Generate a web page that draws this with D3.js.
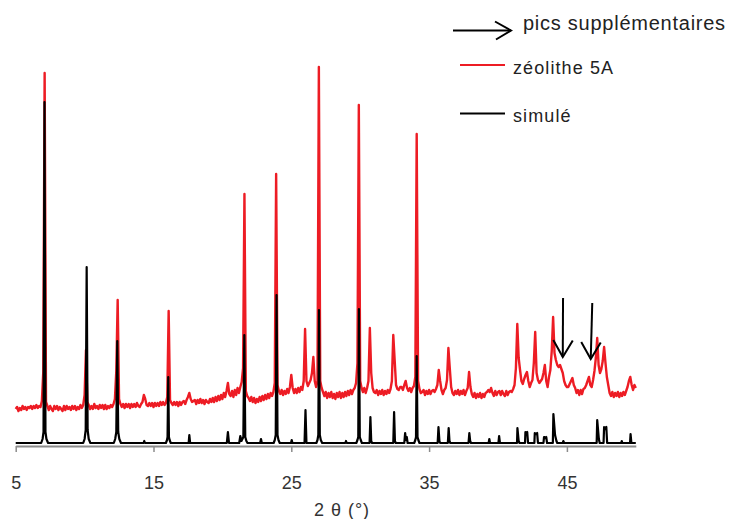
<!DOCTYPE html>
<html lang="fr">
    <head>
        <meta charset="utf-8">
        <script src="https://d3js.org/d3.v7.min.js"></script>
        <title>DRX zéolithe 5A</title>
        <style>
            body {
                margin: 0px;
                background-color: white;
            }
            text {
                font-family: "Liberation Sans", Arial, sans-serif;
            }
        </style>
    </head>
    <body>
        <svg id="main" width="731" height="519"></svg>
        <script>

        // axis ticks (2 theta, degrees)
        const xTicks = [5, 15, 25, 35, 45];

        const seriesNames = ['zéolithe 5A', 'simulé'];
        const arrowLabel = 'pics supplémentaires';

        // measured pattern, [2theta, intensity]
        const zeoliteData = [
            [5.0,34],[5.1,36],[5.2,32],[5.3,35],[5.4,33],[5.5,37],[5.6,34],[5.7,36],[5.8,33],[5.9,36],
            [6.0,35],[6.1,37],[6.2,34],[6.3,37],[6.4,35],[6.5,38],[6.6,35],[6.7,37],[6.8,36],[6.9,42],
            [7.0,71],[7.1,370],[7.2,41],[7.3,37],[7.4,33],[7.5,37],[7.6,34],[7.7,32],[7.8,37],[7.9,34],
            [8.0,37],[8.1,33],[8.2,36],[8.3,34],[8.4,32],[8.5,37],[8.6,33],[8.7,37],[8.8,34],[8.9,36],
            [9.0,33],[9.1,37],[9.2,34],[9.3,37],[9.4,33],[9.5,36],[9.6,34],[9.7,38],[9.8,35],[9.9,38],
            [10.0,48],[10.1,93],[10.2,41],[10.3,38],[10.4,34],[10.5,37],[10.6,34],[10.7,39],[10.8,35],[10.9,37],
            [11.0,34],[11.1,38],[11.2,35],[11.3,38],[11.4,34],[11.5,38],[11.6,34],[11.7,37],[11.8,35],[11.9,38],
            [12.0,36],[12.1,39],[12.2,44],[12.3,72],[12.4,143],[12.5,44],[12.6,39],[12.7,36],[12.8,39],[12.9,35],
            [13.0,39],[13.1,36],[13.2,39],[13.3,35],[13.4,39],[13.5,36],[13.6,39],[13.7,36],[13.8,40],[13.9,37],
            [14.0,36],[14.1,39],[14.2,41],[14.3,48],[14.4,44],[14.5,38],[14.6,37],[14.7,40],[14.8,37],[14.9,40],
            [15.0,36],[15.1,40],[15.2,37],[15.3,40],[15.4,37],[15.5,41],[15.6,38],[15.7,41],[15.8,38],[15.9,40],
            [16.0,46],[16.1,132],[16.2,43],[16.3,40],[16.4,38],[16.5,41],[16.6,38],[16.7,41],[16.8,37],[16.9,41],
            [17.0,38],[17.1,41],[17.2,42],[17.3,39],[17.4,43],[17.5,46],[17.6,50],[17.7,44],[17.8,41],[17.9,42],
            [18.0,43],[18.1,39],[18.2,43],[18.3,40],[18.4,44],[18.5,40],[18.6,43],[18.7,39],[18.8,43],[18.9,41],
            [19.0,40],[19.1,44],[19.2,41],[19.3,45],[19.4,41],[19.5,46],[19.6,42],[19.7,47],[19.8,43],[19.9,48],
            [20.0,44],[20.1,50],[20.2,46],[20.3,52],[20.4,60],[20.5,49],[20.6,47],[20.7,52],[20.8,46],[20.9,53],
            [21.0,48],[21.1,55],[21.2,50],[21.3,56],[21.4,61],[21.5,75],[21.6,249],[21.7,52],[21.8,47],[21.9,45],
            [22.0,42],[22.1,46],[22.2,41],[22.3,45],[22.4,40],[22.5,44],[22.6,41],[22.7,46],[22.8,42],[22.9,47],
            [23.0,43],[23.1,48],[23.2,44],[23.3,49],[23.4,45],[23.5,50],[23.6,47],[23.7,51],[23.8,60],[23.9,269],
            [24.0,58],[24.1,52],[24.2,49],[24.3,53],[24.4,48],[24.5,52],[24.6,49],[24.7,54],[24.8,50],[24.9,56],
            [25.0,68],[25.1,55],[25.2,50],[25.3,54],[25.4,50],[25.5,55],[25.6,51],[25.7,56],[25.8,53],[25.9,62],
            [26.0,114],[26.1,62],[26.2,57],[26.3,60],[26.4,63],[26.5,70],[26.6,86],[26.7,62],[26.8,56],[26.9,62],
            [27.0,376],[27.1,62],[27.2,55],[27.3,51],[27.4,47],[27.5,51],[27.6,45],[27.7,50],[27.8,46],[27.9,51],
            [28.0,45],[28.1,49],[28.2,44],[28.3,50],[28.4,46],[28.5,51],[28.6,45],[28.7,50],[28.8,46],[28.9,51],
            [29.0,47],[29.1,52],[29.2,48],[29.3,53],[29.4,49],[29.5,53],[29.6,55],[29.7,60],[29.8,80],[29.9,338],
            [30.0,62],[30.1,55],[30.2,51],[30.3,55],[30.4,50],[30.5,55],[30.6,62],[30.7,115],[30.8,70],[30.9,55],
            [31.0,51],[31.1,50],[31.2,53],[31.3,48],[31.4,52],[31.5,49],[31.6,53],[31.7,48],[31.8,52],[31.9,49],
            [32.0,53],[32.1,50],[32.2,54],[32.3,62],[32.4,108],[32.5,83],[32.6,58],[32.7,54],[32.8,53],[32.9,56],
            [33.0,56],[33.1,53],[33.2,58],[33.3,62],[33.4,55],[33.5,52],[33.6,55],[33.7,51],[33.8,55],[33.9,57],
            [34.0,66],[34.1,309],[34.2,62],[34.3,54],[34.4,50],[34.5,51],[34.6,53],[34.7,48],[34.8,52],[34.9,49],
            [35.0,53],[35.1,49],[35.2,52],[35.3,53],[35.4,51],[35.5,54],[35.6,58],[35.7,73],[35.8,62],[35.9,53],
            [36.0,49],[36.1,53],[36.2,55],[36.3,63],[36.4,95],[36.5,75],[36.6,56],[36.7,50],[36.8,48],[36.9,52],
            [37.0,49],[37.1,53],[37.2,48],[37.3,52],[37.4,49],[37.5,53],[37.6,48],[37.7,52],[37.8,55],[37.9,71],
            [38.0,56],[38.1,49],[38.2,46],[38.3,50],[38.4,45],[38.5,49],[38.6,46],[38.7,50],[38.8,45],[38.9,49],
            [39.0,46],[39.1,50],[39.2,51],[39.3,53],[39.4,51],[39.5,55],[39.6,50],[39.7,47],[39.8,52],[39.9,48],
            [40.0,51],[40.1,52],[40.2,48],[40.3,52],[40.4,49],[40.5,47],[40.6,52],[40.7,48],[40.8,51],[40.9,52],
            [41.0,51],[41.1,54],[41.2,58],[41.3,75],[41.4,119],[41.5,85],[41.6,73],[41.7,62],[41.8,59],[41.9,64],
            [42.0,68],[42.1,71],[42.2,62],[42.3,56],[42.4,60],[42.5,63],[42.6,80],[42.7,111],[42.8,70],[42.9,63],
            [43.0,60],[43.1,62],[43.2,64],[43.3,70],[43.4,78],[43.5,62],[43.6,56],[43.7,66],[43.8,73],[43.9,92],
            [44.0,126],[44.1,90],[44.2,83],[44.3,78],[44.4,76],[44.5,78],[44.6,74],[44.7,70],[44.8,62],[44.9,58],
            [45.0,56],[45.1,56],[45.2,59],[45.3,62],[45.4,65],[45.5,58],[45.6,55],[45.7,50],[45.8,53],[45.9,48],
            [46.0,53],[46.1,49],[46.2,54],[46.3,55],[46.4,58],[46.5,62],[46.6,66],[46.7,58],[46.8,56],[46.9,63],
            [47.0,72],[47.1,85],[47.2,105],[47.3,78],[47.4,70],[47.5,74],[47.6,82],[47.7,96],[47.8,80],[47.9,66],
            [48.0,58],[48.1,50],[48.2,47],[48.3,51],[48.4,46],[48.5,50],[48.6,47],[48.7,51],[48.8,46],[48.9,50],
            [49.0,47],[49.1,51],[49.2,48],[49.3,52],[49.4,56],[49.5,62],[49.6,66],[49.7,58],[49.8,53],[49.9,58],
            [50.0,55]
        ];

        // simulated pattern, [2theta, intensity]
        const simuleData = [
            [5.0,0],
            [6.85,0],[6.95,4],[7.02,11],[7.09,341],[7.16,11],[7.23,4],[7.35,0],
            [9.9,0],[10.0,4],[10.08,13],[10.15,176],[10.22,13],[10.3,4],[10.42,0],
            [12.12,0],[12.22,4],[12.3,11],[12.37,102],[12.44,11],[12.52,4],[12.64,0],
            [14.28,0],[14.33,2],[14.38,0],
            [15.9,0],[15.98,3],[16.02,6],[16.07,66],[16.12,6],[16.17,3],[16.25,0],
            [17.55,0],[17.6,8],[17.66,0],
            [20.32,0],[20.4,11],[20.48,0],
            [21.22,0],[21.3,7],[21.38,2],[21.45,4],[21.52,6],[21.59,108],[21.66,6],[21.74,2],[21.82,0],
            [22.74,0],[22.8,4],[22.86,0],
            [23.72,0],[23.8,3],[23.87,8],[23.93,148],[24.0,8],[24.07,3],[24.16,0],
            [24.98,0],[25.03,3],[25.08,0],
            [25.96,0],[26.03,33],[26.1,0],
            [26.82,0],[26.9,3],[26.96,8],[27.01,133],[27.07,8],[27.14,3],[27.24,0],
            [28.92,0],[28.97,2],[29.02,0],
            [29.72,0],[29.8,3],[29.86,6],[29.91,134],[29.97,6],[30.04,3],[30.12,0],
            [30.68,0],[30.74,26],[30.8,2],[30.86,0],
            [32.4,0],[32.46,31],[32.52,2],[32.58,0],
            [33.2,0],[33.26,10],[33.32,3],[33.38,6],[33.44,0],
            [33.92,0],[34.0,3],[34.05,6],[34.1,87],[34.16,6],[34.22,3],[34.3,0],
            [35.62,0],[35.68,16],[35.75,2],[35.8,0],
            [36.36,0],[36.42,15],[36.48,2],[36.54,0],
            [37.86,0],[37.92,10],[37.98,2],[38.04,0],
            [39.32,0],[39.37,4],[39.42,0],
            [40.03,0],[40.08,7],[40.14,0],
            [41.38,0],[41.41,15],[41.5,2],[41.56,0],
            [41.96,0],[41.99,11],[42.06,10],[42.12,11],[42.18,0],
            [42.64,0],[42.67,10],[42.76,9],[42.84,10],[42.9,0],
            [43.3,0],[43.34,6],[43.44,5],[43.5,6],[43.56,0],
            [43.98,0],[44.02,29],[44.14,8],[44.24,2],[44.3,0],
            [44.7,0],[44.74,2],[44.8,0],
            [47.16,0],[47.2,23],[47.32,4],[47.38,0],
            [47.66,0],[47.7,16],[47.8,14],[47.86,16],[47.92,0],
            [48.94,0],[48.98,2],[49.02,0],
            [49.58,0],[49.62,9],[49.68,0],
            [50.0,0]
        ];

        // extra peaks pointed out by arrows: [2theta, intensity] of top and tip
        const arrowTops = [[44.72,145],[46.84,140]];
        const arrowTips = [[44.70,86],[46.73,84]];

        let svg = d3.select('svg#main');

        let xScale = d3.scaleLinear()
            .domain([5, 50])
            .range([15.7, 635.8]);

        let yScale = d3.scaleLinear()
            .domain([0, 400])
            .range([443, 43]);

        let line = d3.line()
            .x(d => xScale(d[0]))
            .y(d => yScale(d[1]));

        // x axis
        let xAxis = d3.axisBottom(xScale)
            .tickValues(xTicks)
            .tickSize(6)
            .tickSizeOuter(0)
            .tickPadding(24)
            .tickFormat(d3.format('d'));

        let axisG = svg.append('g')
            .attr('transform', 'translate(0,446)')
            .call(xAxis);
        axisG.select('.domain')
            .attr('stroke', '#8c8c8c')
            .attr('stroke-width', 2);
        axisG.selectAll('.tick line')
            .attr('stroke', '#8c8c8c')
            .attr('stroke-width', 1.5);
        axisG.selectAll('.tick text')
            .attr('fill', '#333')
            .style('font-size', '18px')
            .style('font-family', '"Liberation Sans", Arial, sans-serif');

        svg.append('text')
            .attr('x', 342)
            .attr('y', 516)
            .attr('text-anchor', 'middle')
            .attr('fill', '#333')
            .attr('letter-spacing', 1)
            .style('font-size', '18px')
            .text('2 θ (°)');

        // patterns
        svg.append('path')
            .datum(zeoliteData)
            .attr('fill', 'none')
            .attr('stroke', '#ed1c24')
            .attr('stroke-width', 2.4)
            .attr('stroke-linejoin', 'round')
            .attr('d', line);

        svg.append('path')
            .datum(simuleData)
            .attr('fill', 'none')
            .attr('stroke', '#000')
            .attr('stroke-width', 2.2)
            .attr('stroke-linejoin', 'round')
            .attr('d', line);

        // arrows on extra peaks
        arrowTops.forEach(function(top, i) {
            let tip = arrowTips[i];
            let tx = xScale(tip[0]), ty = yScale(tip[1]);
            svg.append('line')
                .attr('x1', xScale(top[0])).attr('y1', yScale(top[1]))
                .attr('x2', tx).attr('y2', ty)
                .attr('stroke', '#000').attr('stroke-width', 2);
            svg.append('path')
                .attr('d', 'M' + (tx - 9.5) + ',' + (ty - 17) + 'L' + tx + ',' + ty + 'L' + (tx + 10) + ',' + (ty - 16.5))
                .attr('fill', 'none')
                .attr('stroke', '#000').attr('stroke-width', 2);
        });

        // legend
        let legend = svg.append('g');
        legend.append('line')
            .attr('x1', 453).attr('y1', 30.5).attr('x2', 511).attr('y2', 30.5)
            .attr('stroke', '#000').attr('stroke-width', 2);
        legend.append('path')
            .attr('d', 'M495,21.5L511,30.5L496,39.5')
            .attr('fill', 'none')
            .attr('stroke', '#000').attr('stroke-width', 2);
        legend.append('text')
            .attr('x', 523).attr('y', 29.5)
            .attr('fill', '#222')
            .attr('letter-spacing', 0.75)
            .style('font-size', '20px')
            .text(arrowLabel);

        let legendColors = ['#ed1c24', '#000'];
        let legendRows = legend.selectAll('.row').data(seriesNames)
            .enter().append('g')
            .attr('class', 'row')
            .attr('transform', (d, i) => 'translate(0,' + (65 + i * 48.5) + ')');
        legendRows.append('line')
            .attr('x1', 460).attr('x2', 505)
            .attr('y1', 0).attr('y2', 0)
            .attr('stroke', (d, i) => legendColors[i])
            .attr('stroke-width', 2);
        legendRows.append('text')
            .attr('x', 513).attr('y', 8.5)
            .attr('fill', '#222')
            .attr('letter-spacing', 1.1)
            .style('font-size', '18px')
            .text(d => d);

        </script>
    </body>
</html>
